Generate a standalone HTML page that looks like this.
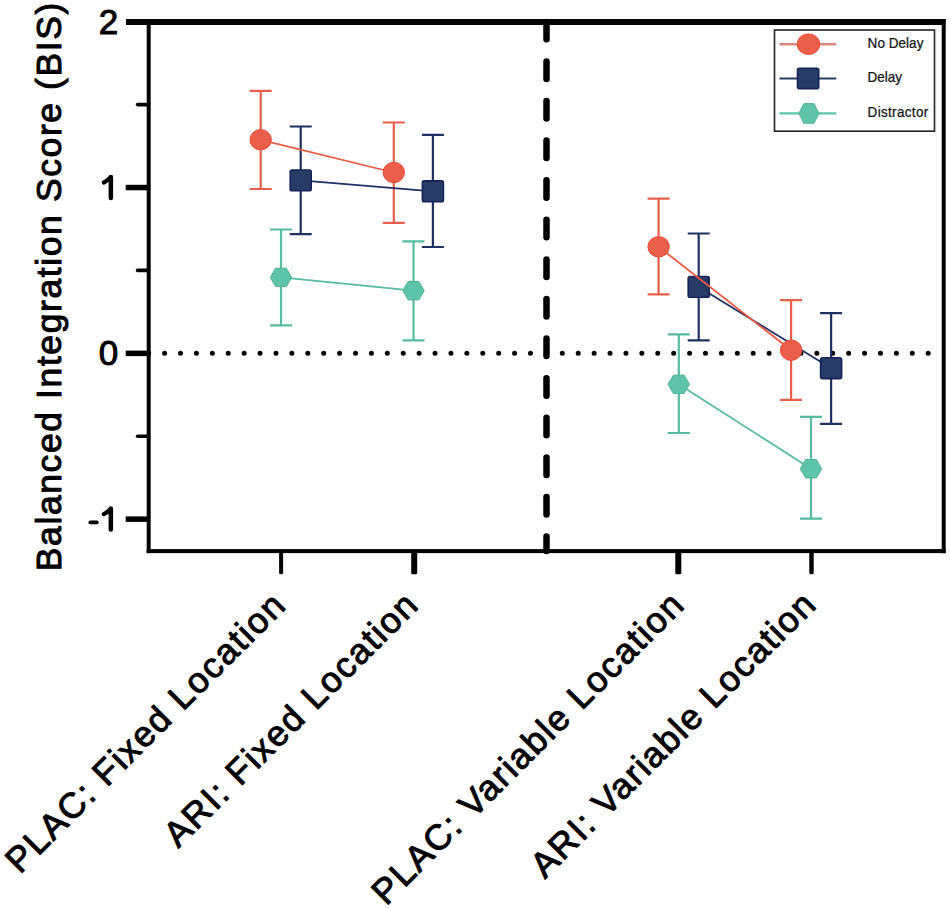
<!DOCTYPE html>
<html><head><meta charset="utf-8"><style>
html,body{margin:0;padding:0;background:#fff;width:950px;height:908px;overflow:hidden}
svg{display:block}
.t{font-family:"Liberation Sans",sans-serif;fill:#000;stroke:#000;stroke-width:1.0px;stroke-linejoin:round}
.l{font-family:"Liberation Sans",sans-serif;fill:#111;stroke:#111;stroke-width:0.25px}
</style></head><body>
<svg width="950" height="908" viewBox="0 0 950 908">
<line x1="148.7" y1="353.3" x2="942" y2="353.3" stroke="#000" stroke-width="5" stroke-linecap="round" stroke-dasharray="0 15.908"/>
<line x1="546.5" y1="22" x2="546.5" y2="551" stroke="#000" stroke-width="6.5" stroke-linecap="round" stroke-dasharray="17.5 22.1" stroke-dashoffset="0.2"/>
<path d="M270.0 229.5 H292.0 M281.0 229.5 V325.4 M270.0 325.4 H292.0" stroke="#58BB9F" stroke-width="2.2" fill="none"/>
<path d="M402.5 241.4 H424.5 M413.5 241.4 V340.4 M402.5 340.4 H424.5" stroke="#58BB9F" stroke-width="2.2" fill="none"/>
<path d="M667.8 334.4 H689.8 M678.8 334.4 V433.0 M667.8 433.0 H689.8" stroke="#58BB9F" stroke-width="2.2" fill="none"/>
<path d="M800.0 416.9 H822.0 M811.0 416.9 V518.6 M800.0 518.6 H822.0" stroke="#58BB9F" stroke-width="2.2" fill="none"/>
<path d="M289.7 126.5 H311.7 M300.7 126.5 V234.2 M289.7 234.2 H311.7" stroke="#1F3163" stroke-width="2.2" fill="none"/>
<path d="M421.9 134.9 H443.9 M432.9 134.9 V247.0 M421.9 247.0 H443.9" stroke="#1F3163" stroke-width="2.2" fill="none"/>
<path d="M687.7 233.5 H709.7 M698.7 233.5 V340.4 M687.7 340.4 H709.7" stroke="#1F3163" stroke-width="2.2" fill="none"/>
<path d="M820.1 313.1 H842.1 M831.1 313.1 V423.8 M820.1 423.8 H842.1" stroke="#1F3163" stroke-width="2.2" fill="none"/>
<path d="M249.7 90.8 H271.7 M260.7 90.8 V189.0 M249.7 189.0 H271.7" stroke="#E75F4A" stroke-width="2.2" fill="none"/>
<path d="M382.8 122.5 H404.8 M393.8 122.5 V222.9 M382.8 222.9 H404.8" stroke="#E75F4A" stroke-width="2.2" fill="none"/>
<path d="M647.6 198.7 H669.6 M658.6 198.7 V294.3 M647.6 294.3 H669.6" stroke="#E75F4A" stroke-width="2.2" fill="none"/>
<path d="M780.1 300.1 H802.1 M791.1 300.1 V399.8 M780.1 399.8 H802.1" stroke="#E75F4A" stroke-width="2.2" fill="none"/>
<line x1="281.0" y1="277.4" x2="413.5" y2="290.7" stroke="#58BB9F" stroke-width="1.8"/>
<line x1="678.8" y1="384.3" x2="811.0" y2="468.7" stroke="#58BB9F" stroke-width="1.8"/>
<polygon points="270.3,277.4 275.6,268.2 286.4,268.2 291.7,277.4 286.4,286.6 275.6,286.6" fill="#5DC3A9" stroke="#52B397" stroke-width="1" stroke-linejoin="round"/>
<polygon points="402.8,290.7 408.1,281.5 418.9,281.5 424.2,290.7 418.9,299.9 408.1,299.9" fill="#5DC3A9" stroke="#52B397" stroke-width="1" stroke-linejoin="round"/>
<polygon points="668.1,384.3 673.4,375.1 684.1,375.1 689.5,384.3 684.1,393.5 673.4,393.5" fill="#5DC3A9" stroke="#52B397" stroke-width="1" stroke-linejoin="round"/>
<polygon points="800.3,468.7 805.6,459.5 816.4,459.5 821.7,468.7 816.4,477.9 805.6,477.9" fill="#5DC3A9" stroke="#52B397" stroke-width="1" stroke-linejoin="round"/>
<line x1="300.7" y1="180.4" x2="432.9" y2="191.3" stroke="#1F3163" stroke-width="1.8"/>
<line x1="698.7" y1="286.9" x2="831.1" y2="368.2" stroke="#1F3163" stroke-width="1.8"/>
<rect x="290.2" y="170.0" width="21.0" height="20.8" rx="1.8" fill="#283B67" stroke="#16245A" stroke-width="1.6"/>
<rect x="422.4" y="180.9" width="21.0" height="20.8" rx="1.8" fill="#283B67" stroke="#16245A" stroke-width="1.6"/>
<rect x="688.2" y="276.5" width="21.0" height="20.8" rx="1.8" fill="#283B67" stroke="#16245A" stroke-width="1.6"/>
<rect x="820.6" y="357.8" width="21.0" height="20.8" rx="1.8" fill="#283B67" stroke="#16245A" stroke-width="1.6"/>
<line x1="260.7" y1="139.8" x2="393.8" y2="172.5" stroke="#EA5A44" stroke-width="1.8"/>
<line x1="658.6" y1="246.8" x2="791.1" y2="350.2" stroke="#EA5A44" stroke-width="1.8"/>
<ellipse cx="260.7" cy="139.8" rx="10.70" ry="10.20" fill="#EB5E49" stroke="#E94B34" stroke-width="1"/>
<ellipse cx="393.8" cy="172.5" rx="10.70" ry="10.20" fill="#EB5E49" stroke="#E94B34" stroke-width="1"/>
<ellipse cx="658.6" cy="246.8" rx="10.70" ry="10.20" fill="#EB5E49" stroke="#E94B34" stroke-width="1"/>
<ellipse cx="791.1" cy="350.2" rx="10.70" ry="10.20" fill="#EB5E49" stroke="#E94B34" stroke-width="1"/>
<rect x="126" y="19" width="819.5" height="6" fill="#000"/>
<rect x="146.7" y="19" width="4" height="534.2" fill="#000"/>
<rect x="146.7" y="549.1" width="798.8" height="4" fill="#000"/>
<rect x="941.7" y="19" width="4" height="534.2" fill="#000"/>
<rect x="125.7" y="184.8" width="22" height="5.5" fill="#000"/>
<rect x="125.7" y="350.6" width="22" height="5.5" fill="#000"/>
<rect x="125.7" y="516.4" width="22" height="5.5" fill="#000"/>
<line x1="137.6" y1="104.6" x2="148" y2="104.6" stroke="#000" stroke-width="3.6" stroke-linecap="round"/>
<line x1="137.6" y1="270.4" x2="148" y2="270.4" stroke="#000" stroke-width="3.6" stroke-linecap="round"/>
<line x1="137.6" y1="436.2" x2="148" y2="436.2" stroke="#000" stroke-width="3.6" stroke-linecap="round"/>
<rect x="279.1" y="551" width="4" height="23.3" rx="1.5" fill="#000"/>
<rect x="411.2" y="551" width="6" height="23.3" rx="1.5" fill="#000"/>
<rect x="675.3" y="551" width="6" height="23.3" rx="1.5" fill="#000"/>
<rect x="809.3" y="551" width="4.4" height="23.3" rx="1.5" fill="#000"/>
<text x="118.3" y="34.0" text-anchor="end" font-size="35" class="t">2</text>
<text x="118.3" y="364.7" text-anchor="end" font-size="35" class="t">0</text>
<path d="M110.85 177.1 L110.85 197.9" stroke="#000" stroke-width="4.5" stroke-linecap="round" fill="none"/><path d="M110.6 177.2 Q107.5 180.9 103.8 182.5" stroke="#000" stroke-width="4.2" stroke-linecap="round" fill="none"/>
<path d="M110.85 508.7 L110.85 529.5" stroke="#000" stroke-width="4.5" stroke-linecap="round" fill="none"/><path d="M110.6 508.8 Q107.5 512.5 103.8 514.1" stroke="#000" stroke-width="4.2" stroke-linecap="round" fill="none"/>
<line x1="90.2" y1="522.4" x2="96.9" y2="522.4" stroke="#000" stroke-width="3.6" stroke-linecap="round"/>
<text transform="translate(60.5,571.2) rotate(-90)" font-size="35.5" letter-spacing="1.6" class="t">Balanced Integration Score (BIS)</text>
<text transform="translate(288.13,606.56) rotate(-45)" text-anchor="end" font-size="35.5" letter-spacing="1.8" class="t">PLAC: Fixed Location</text>
<text transform="translate(420.81,606.42) rotate(-45)" text-anchor="end" font-size="35.5" letter-spacing="1.74" class="t">ARI: Fixed Location</text>
<text transform="translate(686.60,606.13) rotate(-45)" text-anchor="end" font-size="35.5" letter-spacing="1.77" class="t">PLAC: Variable Location</text>
<text transform="translate(818.53,605.85) rotate(-45)" text-anchor="end" font-size="35.5" letter-spacing="1.65" class="t">ARI: Variable Location</text>
<rect x="774.5" y="30" width="160" height="101.2" fill="#fff" stroke="#222" stroke-width="1.6"/>
<line x1="779.5" y1="44.2" x2="836.3" y2="44.2" stroke="#D98A80" stroke-width="2.4"/>
<ellipse cx="808.5" cy="44.2" rx="11.3" ry="10.3" fill="#EB5E49" stroke="#E94B34" stroke-width="1"/>
<line x1="779.5" y1="78.4" x2="836.3" y2="78.4" stroke="#283B67" stroke-width="2"/>
<rect x="797.5" y="68.2" width="21.2" height="20.4" rx="1.8" fill="#283B67" stroke="#16245A" stroke-width="1.6"/>
<line x1="779.5" y1="113.4" x2="836.3" y2="113.4" stroke="#5DC3A9" stroke-width="2.4"/>
<polygon points="798.8,113.4 803.9,103.6 813.9,103.6 819.0,113.4 813.9,123.2 803.9,123.2" fill="#5DC3A9" stroke="#52B397" stroke-width="1" stroke-linejoin="round"/>
<text transform="translate(867.6,48.2) scale(0.93,1)" font-size="14.5" letter-spacing="0.05" class="l">No Delay</text>
<text transform="translate(867.6,82.4) scale(0.93,1)" font-size="14.5" letter-spacing="0" class="l">Delay</text>
<text transform="translate(867.6,117.4) scale(0.93,1)" font-size="14.5" letter-spacing="0.35" class="l">Distractor</text>
</svg>
</body></html>
